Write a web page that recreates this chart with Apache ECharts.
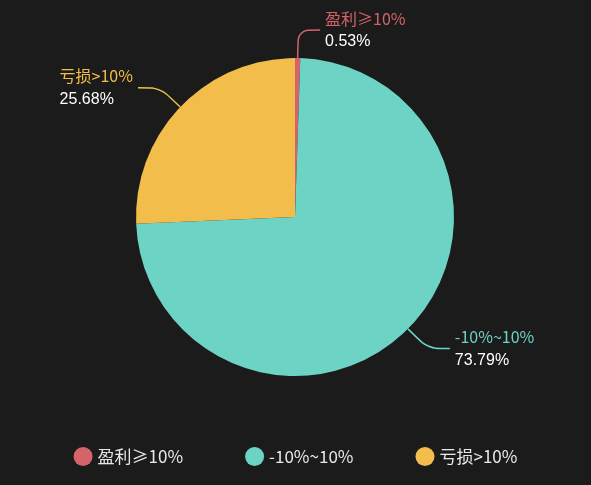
<!DOCTYPE html><html><head><meta charset="utf-8">
<script src="https://cdn.jsdelivr.net/npm/echarts@6/dist/echarts.min.js"></script>
<style>html,body{margin:0;background:#1b1b1b}#c{width:591px;height:485px}</style></head><body><div id="c"></div>
<script>
const categories=['盈利≥10%','-10%~10%','亏损>10%'];
const values=[0.53,73.79,25.68];
const colors=['#d5646a','#6dd3c5','#f2bd4a'];
const chart=echarts.init(document.getElementById('c'));
chart.setOption({
backgroundColor:'#1b1b1b',
color:colors,
legend:{bottom:14,itemGap:62,icon:'circle',itemWidth:19,itemHeight:19,textStyle:{color:'#e8e8e8',fontSize:17,fontFamily:'Noto Sans CJK SC'},data:categories},
series:[{type:'pie',center:[295,217],radius:159,startAngle:90,clockwise:true,
 label:{formatter:(p)=>'{n|'+p.name+'}\n{v|'+p.value.toFixed(2)+'%}',
  rich:{n:{fontSize:16,fontFamily:'Noto Sans CJK SC',lineHeight:23,align:'left'},v:{fontSize:16,color:'#ffffff',lineHeight:23,align:'left'}},alignTo:'none'},
 labelLine:{smooth:0.3,length:28,length2:22,lineStyle:{width:1.5}},
 data:categories.map((c,i)=>({name:c,value:values[i],label:{color:colors[i]}}))}]
});
</script></body></html>
